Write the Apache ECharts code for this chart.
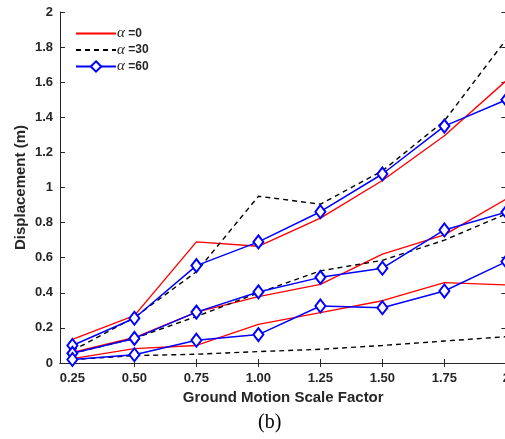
<!DOCTYPE html>
<html>
<head>
<meta charset="utf-8">
<script src="https://cdn.jsdelivr.net/npm/echarts@6/dist/echarts.min.js"></script>
<style>
  html, body { margin: 0; padding: 0; background: #fff; }
  #chart { width: 505px; height: 439px; }
</style>
</head>
<body>
<div id="chart"></div>
<script>
// scale factors on the x axis
const scaleFactors = [0.25, 0.5, 0.75, 1, 1.25, 1.5, 1.75, 2]
const xTickValues = [0.25, 0.5, 0.75, 1, 1.25, 1.5, 1.75, 2]
const alphaLabels = ['0', '30', '60']

// upper group of curves
const alpha0Hi = [0.135, 0.27, 0.69, 0.665, 0.825, 1.04, 1.295, 1.61]
const alpha30Hi = [0.07, 0.26, 0.52, 0.95, 0.905, 1.095, 1.38, 1.845]
const alpha60Hi = [0.10, 0.255, 0.555, 0.69, 0.862, 1.077, 1.35, 1.50]

// middle group
const alpha0Mid = [0.06, 0.145, 0.29, 0.378, 0.448, 0.62, 0.73, 0.935]
const alpha30Mid = [0.055, 0.14, 0.265, 0.40, 0.525, 0.585, 0.70, 0.85]
const alpha60Mid = [0.055, 0.14, 0.29, 0.405, 0.488, 0.54, 0.758, 0.86]

// lower group
const alpha0Lo = [0.025, 0.082, 0.10, 0.22, 0.287, 0.355, 0.458, 0.445]
const alpha30Lo = [0.02, 0.042, 0.05, 0.065, 0.078, 0.10, 0.125, 0.15]
const alpha60Lo = [0.02, 0.047, 0.13, 0.162, 0.325, 0.315, 0.41, 0.578]

const textColor = '#262626'
const font = 'Liberation Sans, Arial, sans-serif'

const pairs = vals => scaleFactors.map((x, i) => [x, vals[i]])

function redLine(vals) {
  return {
    name: 'α =' + alphaLabels[0],
    type: 'line',
    data: pairs(vals),
    symbol: 'none',
    lineStyle: { color: '#ff0000', width: 1.4 },
    itemStyle: { color: '#ff0000' },
    z: 2,
  }
}
function dashLine(vals) {
  return {
    name: 'α =' + alphaLabels[1],
    type: 'line',
    data: pairs(vals),
    symbol: 'none',
    lineStyle: { color: '#000000', width: 1.4, type: [5, 4] },
    itemStyle: { color: '#000000' },
    z: 3,
  }
}
function blueLine(vals) {
  return {
    name: 'α =' + alphaLabels[2],
    type: 'line',
    data: pairs(vals),
    symbol: 'emptyDiamond',
    symbolSize: [10, 13],
    showAllSymbol: true,
    lineStyle: { color: '#0000ff', width: 1.5 },
    itemStyle: { color: '#0000ff', borderWidth: 1.5 },
    z: 4,
  }
}

const chart = echarts.init(document.getElementById('chart'), null, { renderer: 'canvas' })

const option = {
  animation: false,
  backgroundColor: '#ffffff',
  grid: { left: 60, top: 12, width: 446.4, height: 351, outerBoundsMode: 'none', containLabel: false },
  legend: {
    orient: 'vertical',
    left: 70,
    top: 21,
    itemWidth: 40,
    itemHeight: 13,
    itemGap: 1.5,
    data: [
      { name: 'α =' + alphaLabels[0], itemStyle: { opacity: 0 } },
      { name: 'α =' + alphaLabels[1], itemStyle: { opacity: 0 } },
      { name: 'α =' + alphaLabels[2] },
    ],
    formatter: name => '{a|α} {b|' + name.split(' ')[1] + '}',
    textStyle: {
      padding: [0, 0, 0, -4],
      rich: {
        a: { fontFamily: 'Liberation Serif, serif', fontStyle: 'italic', fontSize: 15, lineHeight: 15, color: textColor },
        b: { fontFamily: font, fontWeight: 'bold', fontSize: 12, lineHeight: 15, color: textColor },
      },
    },
  },
  xAxis: [
    {
      type: 'value',
      min: 0.2,
      max: 2,
      position: 'bottom',
      name: 'Ground Motion Scale Factor',
      nameLocation: 'middle',
      nameGap: 27,
      nameTextStyle: { fontFamily: font, fontWeight: 'bold', fontSize: 15, color: textColor },
      axisLine: { lineStyle: { color: textColor, width: 1 } },
      axisTick: { inside: true, length: 4, customValues: xTickValues, lineStyle: { color: textColor } },
      axisLabel: {
        customValues: xTickValues,
        margin: 9,
        fontFamily: font,
        fontWeight: 'bold',
        fontSize: 13,
        color: textColor,
        formatter: v => (v === 2 ? '2' : v.toFixed(2)),
      },
      splitLine: { show: false },
    },
    {
      type: 'value',
      min: 0.2,
      max: 2,
      position: 'top',
      axisLine: { lineStyle: { color: textColor, width: 1 } },
      axisTick: { inside: true, length: 4, customValues: xTickValues, lineStyle: { color: textColor } },
      axisLabel: { show: false },
      splitLine: { show: false },
    },
  ],
  yAxis: [
    {
      type: 'value',
      min: 0,
      max: 2,
      interval: 0.2,
      position: 'left',
      name: 'Displacement (m)',
      nameLocation: 'middle',
      nameGap: 32,
      nameMoveOverlap: false,
      nameTextStyle: { fontFamily: font, fontWeight: 'bold', fontSize: 15, color: textColor },
      axisLine: { show: true, lineStyle: { color: textColor, width: 1 } },
      axisTick: { show: true, inside: true, length: 5, lineStyle: { color: textColor } },
      axisLabel: { margin: 7, fontFamily: font, fontWeight: 'bold', fontSize: 13, color: textColor },
      splitLine: { show: false },
    },
    {
      type: 'value',
      min: 0,
      max: 2,
      interval: 0.2,
      position: 'right',
      axisLine: { show: true, lineStyle: { color: textColor, width: 1 } },
      axisTick: { show: true, inside: true, length: 5, lineStyle: { color: textColor } },
      axisLabel: { show: false },
      splitLine: { show: false },
    },
  ],
  graphic: [
    {
      type: 'text',
      left: 258,
      top: 413,
      style: { text: '(b)', font: '20px "Liberation Serif", serif', fill: '#000000' },
    },
  ],
  series: [
    redLine(alpha0Hi), redLine(alpha0Mid), redLine(alpha0Lo),
    dashLine(alpha30Hi), dashLine(alpha30Mid), dashLine(alpha30Lo),
    blueLine(alpha60Hi), blueLine(alpha60Mid), blueLine(alpha60Lo),
  ],
}

chart.setOption(option)
</script>
</body>
</html>
